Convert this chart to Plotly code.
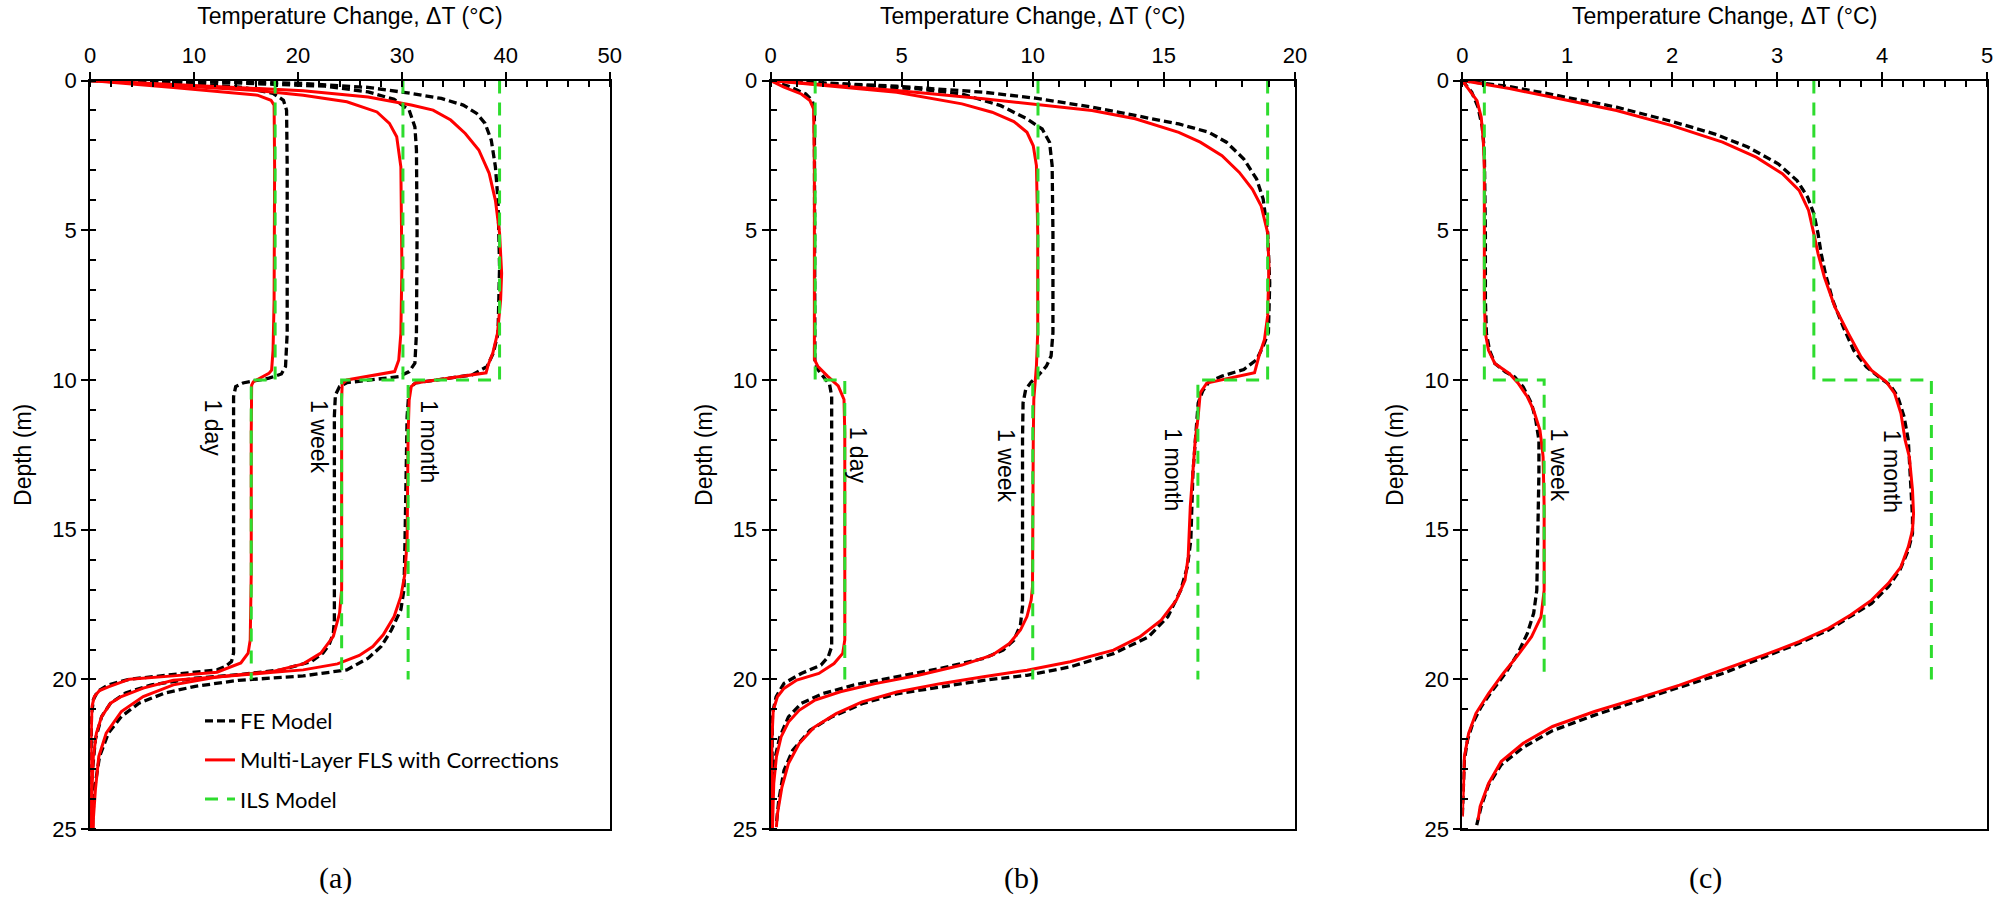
import plotly.graph_objects as go

# ---------------- Panel (a) ----------------
a_fe_day_D = [0, 0.06, 0.23, 0.43, 0.66, 0.99, 2.88, 8.44, 9.55, 9.8, 9.94, 10.1, 10.22, 10.56, 12.0, 19.12, 19.4, 19.57, 19.68, 19.84, 19.99, 20.18, 20.4, 20.68, 21.23, 22.57, 25]
a_fe_day_T = [0, 8.0, 14.7, 17.6, 18.6, 18.9, 18.96, 18.96, 18.8, 18.4, 17.2, 14.7, 14.0, 13.8, 13.8, 13.8, 13.6, 13.0, 12.2, 8.0, 3.8, 1.75, 0.7, 0.3, 0.12, 0.08, 0.08]
a_fls_day_D = [0, 0.23, 0.49, 0.66, 0.82, 2.88, 7.33, 9.0, 9.67, 9.78, 10.06, 10.17, 11.78, 16.45, 18.68, 19.12, 19.45, 19.76, 19.88, 19.99, 20.25, 20.37, 20.57, 20.9, 22.0, 24.24, 25]
a_fls_day_T = [0, 8.0, 16.1, 17.4, 17.7, 17.75, 17.7, 17.6, 17.46, 17.2, 15.7, 15.54, 15.5, 15.5, 15.4, 15.2, 14.5, 12.2, 8.0, 3.8, 1.75, 0.9, 0.4, 0.17, 0.08, 0.04, 0]

a_fe_week_D = [0, 0.06, 0.19, 0.38, 0.63, 0.99, 1.55, 2.32, 5.1, 8.44, 9.44, 9.72, 9.89, 10.0, 10.09, 10.22, 10.5, 11.2, 18.0, 18.45, 18.84, 19.12, 19.4, 19.68, 19.84, 19.96, 20.18, 20.45, 20.79, 21.24, 22.0, 23.1, 25]
a_fe_week_T = [0, 12.2, 22.6, 26.75, 29.25, 30.7, 31.25, 31.4, 31.46, 31.4, 31.25, 30.7, 29.7, 27.2, 24.7, 24.0, 23.6, 23.5, 23.5, 23.4, 23.0, 22.4, 21.3, 18.4, 14.25, 10.1, 5.9, 3.4, 1.96, 1.1, 0.5, 0.2, 0.12]
a_fls_week_D = [0, 0.16, 0.34, 0.49, 0.71, 1.05, 1.43, 1.88, 2.88, 6.22, 8.44, 9.33, 9.72, 10.0, 10.13, 10.67, 17.0, 17.79, 18.56, 19.12, 19.48, 19.73, 19.92, 20.03, 20.29, 20.57, 20.79, 21.24, 21.79, 22.57, 23.68, 25]
a_fls_week_T = [0, 8.0, 16.3, 20.5, 24.7, 27.6, 28.8, 29.5, 29.9, 30.0, 29.9, 29.7, 29.3, 24.7, 24.25, 24.2, 24.2, 24.0, 23.4, 22.2, 20.5, 17.6, 12.2, 8.0, 5.1, 3.0, 1.96, 1.1, 0.6, 0.3, 0.17, 0.12]

a_fe_month_D = [0, 0.03, 0.1, 0.23, 0.43, 0.6, 0.82, 1.1, 1.43, 1.99, 2.88, 4.0, 6.22, 8.44, 9.1, 9.55, 9.83, 10.0, 10.1, 10.28, 11.22, 15.34, 17.0, 17.67, 18.34, 18.9, 19.29, 19.68, 19.88, 20.03, 20.23, 20.45, 20.79, 21.24, 21.79, 22.57, 23.68, 25]
a_fe_month_T = [0, 12.2, 20.5, 26.75, 30.9, 33.8, 35.9, 37.2, 38.0, 38.6, 39.0, 39.25, 39.4, 39.25, 38.8, 38.2, 36.75, 33.0, 31.3, 30.7, 30.5, 30.3, 30.2, 29.9, 29.0, 28.0, 26.75, 24.7, 20.5, 14.25, 10.1, 7.2, 4.7, 3.0, 1.75, 0.9, 0.4, 0.2]
a_fls_month_D = [0, 0.19, 0.34, 0.55, 0.82, 0.99, 1.32, 1.77, 2.32, 3.1, 4.0, 5.1, 6.44, 7.33, 8.44, 9.1, 9.5, 9.76, 10.1, 10.22, 10.67, 11.78, 15.34, 16.45, 17.23, 17.9, 18.51, 18.9, 19.2, 19.48, 19.68, 19.76, 19.92, 20.18, 20.57, 21.07, 21.79, 22.57, 23.68, 24.68, 25]
a_fls_month_T = [0, 12.2, 20.5, 26.75, 30.9, 33.0, 34.7, 36.1, 37.4, 38.4, 39.0, 39.4, 39.6, 39.5, 39.2, 38.75, 38.3, 38.1, 31.3, 30.9, 30.7, 30.6, 30.5, 30.3, 29.9, 29.25, 28.2, 27.2, 25.9, 23.8, 20.5, 17.6, 12.2, 8.0, 5.1, 3.0, 1.54, 0.83, 0.5, 0.3, 0.3]

# ILS (step profile: layer 1 = 0-10 m, layer 2 = 10-20 m)
ils_D = [0, 10, 10, 20]
a_ils_day_T = [17.8, 17.8, 15.5, 15.5]
a_ils_week_T = [30.1, 30.1, 24.2, 24.2]
a_ils_month_T = [39.4, 39.4, 30.6, 30.6]

# ---------------- Panel (b) ----------------
b_fe_day_D = [0, 0.19, 0.45, 0.67, 0.95, 9.43, 9.65, 9.87, 10.15, 10.54, 18.9, 19.24, 19.52, 19.8, 20.13, 20.58, 21.14, 23.15, 25]
b_fe_day_T = [0, 0.68, 1.34, 1.59, 1.67, 1.69, 1.8, 2.0, 2.25, 2.33, 2.33, 2.2, 1.92, 1.17, 0.51, 0.21, 0.07, 0.05, 0.05]
b_fls_day_D = [0, 0.22, 0.45, 0.67, 0.95, 2.84, 9.31, 9.54, 9.87, 10.2, 10.65, 11.77, 18.68, 19.13, 19.47, 19.8, 20.02, 20.3, 20.58, 21.03, 22.03, 23.15, 25]
b_fls_day_T = [0, 0.51, 1.17, 1.5, 1.64, 1.67, 1.67, 1.8, 2.17, 2.58, 2.8, 2.83, 2.83, 2.75, 2.42, 1.84, 1.0, 0.51, 0.26, 0.1, 0.05, 0.03, 0.02]

b_fe_week_D = [0, 0.15, 0.28, 0.45, 0.84, 1.28, 1.62, 2.06, 2.84, 5.08, 8.42, 9.2, 9.54, 9.82, 10.07, 10.32, 10.77, 11.99, 17.57, 18.18, 18.69, 19.02, 19.3, 19.63, 19.91, 20.19, 20.47, 20.8, 21.25, 21.92, 22.7, 23.71, 25]
b_fe_week_T = [0, 3.16, 5.64, 7.3, 8.78, 9.78, 10.36, 10.64, 10.74, 10.77, 10.77, 10.7, 10.52, 10.24, 9.94, 9.73, 9.63, 9.61, 9.61, 9.53, 9.28, 8.87, 8.12, 6.47, 4.81, 3.16, 2.0, 1.17, 0.68, 0.35, 0.15, 0.07, 0.05]
b_fls_week_D = [0, 0.39, 0.78, 1.06, 1.37, 1.73, 2.18, 2.84, 5.08, 8.42, 9.54, 10.0, 10.65, 11.99, 16.9, 17.35, 17.9, 18.35, 18.8, 19.19, 19.52, 19.86, 20.14, 20.41, 20.7, 21.03, 21.42, 21.92, 22.59, 23.48, 25]
b_fls_week_T = [0, 4.81, 7.3, 8.45, 9.28, 9.78, 10.02, 10.14, 10.19, 10.19, 10.14, 10.09, 10.04, 10.02, 9.99, 9.94, 9.78, 9.53, 9.11, 8.45, 7.3, 5.64, 3.99, 2.66, 1.67, 1.09, 0.68, 0.4, 0.22, 0.12, 0.07]

b_fe_month_D = [0, 0.19, 0.39, 0.59, 0.89, 1.17, 1.45, 1.73, 2.06, 2.62, 3.29, 3.96, 5.08, 6.75, 8.42, 8.87, 9.32, 9.65, 9.87, 10.07, 10.37, 10.77, 11.77, 13.11, 15.34, 16.23, 17.01, 17.91, 18.58, 19.14, 19.58, 19.86, 20.03, 20.25, 20.48, 20.81, 21.25, 21.7, 22.37, 23.04, 24.04, 24.82]
b_fe_month_T = [0, 4.81, 8.12, 10.1, 12.26, 13.91, 15.57, 16.72, 17.39, 18.05, 18.54, 18.79, 18.96, 19.04, 18.99, 18.79, 18.54, 18.05, 17.22, 16.72, 16.48, 16.31, 16.23, 16.11, 16.03, 15.9, 15.65, 15.15, 14.41, 13.08, 11.43, 9.78, 8.12, 6.47, 4.81, 3.49, 2.33, 1.5, 0.84, 0.51, 0.31, 0.22]
b_fls_month_D = [0, 0.33, 0.61, 0.84, 1.0, 1.28, 1.73, 2.06, 2.51, 3.07, 3.63, 4.18, 5.08, 6.19, 7.86, 8.65, 9.2, 9.76, 10.1, 10.43, 11.21, 11.99, 14.22, 15.9, 16.68, 17.35, 18.02, 18.58, 19.02, 19.41, 19.69, 19.91, 20.14, 20.42, 20.75, 21.14, 21.59, 22.14, 22.81, 23.6, 24.49, 24.93]
b_fls_month_T = [0, 4.81, 8.12, 10.6, 12.26, 13.91, 15.57, 16.39, 17.22, 17.88, 18.38, 18.71, 18.96, 19.01, 18.96, 18.84, 18.63, 18.46, 16.64, 16.39, 16.31, 16.2, 16.01, 15.93, 15.81, 15.48, 14.9, 14.08, 13.08, 11.43, 9.78, 8.12, 6.47, 4.81, 3.49, 2.5, 1.67, 1.09, 0.68, 0.43, 0.26, 0.22]

b_ils_day_T = [1.7, 1.7, 2.83, 2.83]
b_ils_week_T = [10.2, 10.2, 10.0, 10.0]
b_ils_month_T = [18.96, 18.96, 16.3, 16.3]

# ---------------- Panel (c) ----------------
c_fe_week_D = [0, 0.39, 0.89, 1.56, 2.34, 5.12, 7.34, 8.45, 9.01, 9.45, 9.73, 9.9, 10.23, 10.79, 11.34, 12.01, 13.12, 15.35, 17.02, 17.79, 18.46, 19.13, 19.8, 20.35, 20.91, 21.46, 22.02, 22.69, 23.69, 24.58]
c_fe_week_T = [0, 0.09, 0.15, 0.19, 0.21, 0.22, 0.22, 0.23, 0.26, 0.31, 0.41, 0.5, 0.58, 0.66, 0.7, 0.73, 0.73, 0.72, 0.71, 0.68, 0.62, 0.53, 0.41, 0.29, 0.18, 0.1, 0.05, 0.02, 0.01, 0.0]
c_fls_week_D = [0, 0.33, 0.67, 1.22, 2.0, 2.89, 7.34, 8.45, 9.01, 9.45, 9.79, 10.1, 10.56, 11.01, 11.68, 12.23, 12.57, 14.23, 17.02, 17.91, 18.57, 19.19, 19.8, 20.47, 21.13, 21.8, 22.58, 23.69, 24.58]
c_fls_week_T = [0, 0.07, 0.14, 0.18, 0.2, 0.21, 0.21, 0.22, 0.25, 0.31, 0.45, 0.53, 0.62, 0.68, 0.74, 0.76, 0.77, 0.78, 0.78, 0.75, 0.66, 0.53, 0.39, 0.25, 0.13, 0.06, 0.02, 0.01, 0.0]

c_fe_month_D = [0, 0.2, 0.47, 0.89, 1.36, 1.78, 2.22, 2.78, 3.34, 3.89, 4.45, 5.12, 5.78, 6.45, 7.34, 8.23, 9.01, 9.56, 9.9, 10.18, 10.56, 11.23, 12.01, 13.12, 14.57, 15.13, 15.68, 16.35, 16.9, 17.46, 17.9, 18.35, 18.79, 19.24, 19.8, 20.26, 20.71, 21.19, 21.71, 22.27, 22.85, 23.52, 24.24, 24.97]
c_fe_month_T = [0, 0.45, 0.86, 1.47, 1.99, 2.4, 2.72, 3.01, 3.19, 3.29, 3.35, 3.39, 3.42, 3.46, 3.53, 3.63, 3.73, 3.85, 3.97, 4.08, 4.15, 4.21, 4.25, 4.27, 4.29, 4.29, 4.25, 4.17, 4.06, 3.9, 3.7, 3.49, 3.21, 2.88, 2.48, 2.07, 1.67, 1.26, 0.86, 0.58, 0.37, 0.25, 0.18, 0.13]
c_fls_month_D = [0, 0.27, 0.56, 1.0, 1.5, 2.06, 2.56, 3.11, 3.67, 4.34, 5.12, 5.78, 6.56, 7.56, 8.45, 9.23, 9.68, 10.06, 10.45, 11.12, 12.01, 12.57, 13.68, 14.46, 15.01, 15.57, 16.24, 16.79, 17.35, 17.85, 18.29, 18.74, 19.18, 19.69, 20.19, 20.63, 21.07, 21.57, 22.13, 22.74, 23.47, 24.24, 24.69]
c_fls_month_T = [0, 0.45, 0.86, 1.47, 1.99, 2.48, 2.8, 3.05, 3.21, 3.3, 3.35, 3.39, 3.45, 3.55, 3.68, 3.8, 3.9, 4.04, 4.12, 4.18, 4.22, 4.26, 4.29, 4.3, 4.29, 4.25, 4.18, 4.06, 3.9, 3.7, 3.49, 3.21, 2.88, 2.48, 2.07, 1.67, 1.26, 0.86, 0.58, 0.37, 0.25, 0.17, 0.15]

c_ils_week_T = [0.21, 0.21, 0.78, 0.78]
c_ils_month_T = [3.35, 3.35, 4.47, 4.47]

# time labels (text, temperature position, depth position)
a_labels = [("1 day", 11.85, 11.6), ("1 week", 22.0, 11.9), ("1 month", 32.65, 12.06)]
b_labels = [("1 day", 3.34, 12.5), ("1 week", 8.95, 12.85), ("1 month", 15.37, 13.0)]
c_labels = [("1 week", 0.92, 12.85), ("1 month", 4.09, 13.05)]

x_ranges = [[0, 50], [0, 20], [0, 5]]
x_dticks = [10, 5, 1]
x_minor = [2, 1, 0.2]
panel_names = ["(a)", "(b)", "(c)"]

# ---------------- styling ----------------
SANS = "Liberation Sans, Arial, sans-serif"
BLACK = "#000000"
RED = "#ff0000"
GREEN = "#2edc2e"
FE_NAME = "FE Model"
FLS_NAME = "Multi-Layer FLS with Corrections"
ILS_NAME = "ILS Model"

panels = [
    dict(fe=[(a_fe_day_T, a_fe_day_D), (a_fe_week_T, a_fe_week_D), (a_fe_month_T, a_fe_month_D)],
         fls=[(a_fls_day_T, a_fls_day_D), (a_fls_week_T, a_fls_week_D), (a_fls_month_T, a_fls_month_D)],
         ils=[a_ils_day_T, a_ils_week_T, a_ils_month_T], labels=a_labels),
    dict(fe=[(b_fe_day_T, b_fe_day_D), (b_fe_week_T, b_fe_week_D), (b_fe_month_T, b_fe_month_D)],
         fls=[(b_fls_day_T, b_fls_day_D), (b_fls_week_T, b_fls_week_D), (b_fls_month_T, b_fls_month_D)],
         ils=[b_ils_day_T, b_ils_week_T, b_ils_month_T], labels=b_labels),
    dict(fe=[(c_fe_week_T, c_fe_week_D), (c_fe_month_T, c_fe_month_D)],
         fls=[(c_fls_week_T, c_fls_week_D), (c_fls_month_T, c_fls_month_D)],
         ils=[c_ils_week_T, c_ils_month_T], labels=c_labels),
]

W, H = 2007, 898
x_domains = [[90.2 / W, 609.7 / W], [770.6 / W, 1294.9 / W], [1462.3 / W, 1987.0 / W]]
y_domain = [(H - 829.2) / H, (H - 80.5) / H]

fig = go.Figure()
shown = {"fe": False, "fls": False, "ils": False}

for i, p in enumerate(panels):
    xa = "x" if i == 0 else f"x{i+1}"
    ya = "y" if i == 0 else f"y{i+1}"
    for T, D in p["fe"]:
        fig.add_trace(go.Scatter(x=T, y=D, mode="lines", xaxis=xa, yaxis=ya,
                                 line=dict(color=BLACK, width=3.3, dash="8px,4px"),
                                 name=FE_NAME, legendgroup="fe", showlegend=(i == 0 and not shown["fe"])))
        shown["fe"] = True
    for T, D in p["fls"]:
        fig.add_trace(go.Scatter(x=T, y=D, mode="lines", xaxis=xa, yaxis=ya,
                                 line=dict(color=RED, width=3),
                                 name=FLS_NAME, legendgroup="fls", showlegend=(i == 0 and not shown["fls"])))
        shown["fls"] = True
    for T in p["ils"]:
        fig.add_trace(go.Scatter(x=T, y=ils_D, mode="lines", xaxis=xa, yaxis=ya,
                                 line=dict(color=GREEN, width=3, dash="13px,9px"),
                                 name=ILS_NAME, legendgroup="ils", showlegend=(i == 0 and not shown["ils"])))
        shown["ils"] = True
    for txt, tx, dy in p["labels"]:
        fig.add_annotation(x=tx, y=dy, xref=xa, yref=ya, text=txt, showarrow=False,
                           textangle=90, font=dict(family=SANS, size=23, color=BLACK))

axis_common = dict(showline=True, linecolor=BLACK, linewidth=2, mirror=True,
                   ticks="outside", ticklen=7, tickwidth=2, tickcolor=BLACK,
                   showgrid=False, zeroline=False, automargin=False,
                   tickfont=dict(family=SANS, size=22, color=BLACK))

layout = dict(width=W, height=H, margin=dict(l=0, r=0, t=0, b=0, autoexpand=False),
              paper_bgcolor="white", plot_bgcolor="white",
              showlegend=True,
              legend=dict(x=200 / W, y=(H - 700) / H, xanchor="left", yanchor="top",
                          bgcolor="rgba(0,0,0,0)", borderwidth=0, tracegroupgap=7.5,
                          font=dict(family="Lato, Open Sans, sans-serif", size=22, color=BLACK)))

for i in range(3):
    sfx = "" if i == 0 else str(i + 1)
    ya = "y" if i == 0 else f"y{i+1}"
    xa = "x" if i == 0 else f"x{i+1}"
    layout[f"xaxis{sfx}"] = dict(axis_common, domain=x_domains[i], anchor=ya, side="top",
                                 range=x_ranges[i], dtick=x_dticks[i], tick0=0,
                                 minor=dict(dtick=x_minor[i], ticks="inside", ticklen=6,
                                            tickwidth=1.5, tickcolor=BLACK, showgrid=False),
                                 title=dict(text="Temperature Change, ΔT (°C)", standoff=12,
                                            font=dict(family=SANS, size=23, color=BLACK)))
    layout[f"yaxis{sfx}"] = dict(axis_common, domain=y_domain, anchor=xa,
                                 range=[25, 0], dtick=5, tick0=0,
                                 minor=dict(dtick=1, ticks="inside", ticklen=6,
                                            tickwidth=1.5, tickcolor=BLACK, showgrid=False),
                                 title=dict(text="Depth (m)", standoff=14,
                                            font=dict(family=SANS, size=23, color=BLACK)))

fig.update_layout(**layout)

label_x = [335 / W, 1021.5 / W, 1705.8 / W]
for name, lx in zip(panel_names, label_x):
    fig.add_annotation(x=lx, y=(H - 878) / H, xref="paper", yref="paper", text=name,
                       showarrow=False, xanchor="center", yanchor="middle",
                       font=dict(family="Liberation Serif, Times New Roman, serif", size=30, color=BLACK))

fig.write_html("out.html")
